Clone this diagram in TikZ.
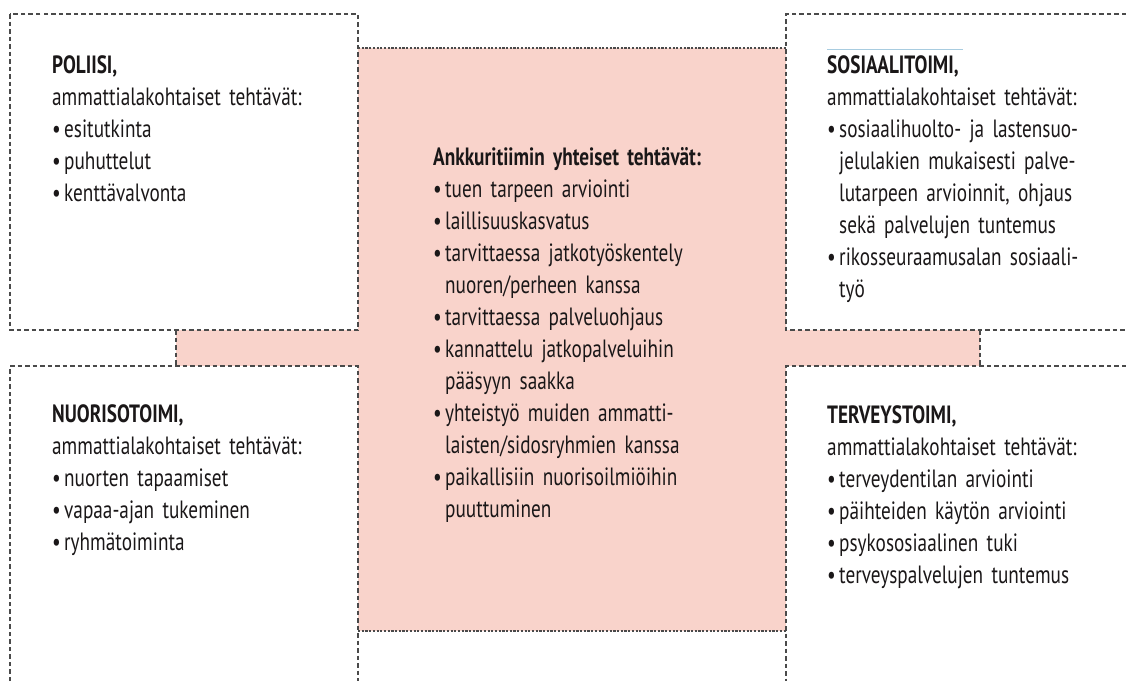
\documentclass[tikz,border=0pt]{standalone}
\usepackage{fontspec}
\setmainfont{PT Sans}[FakeStretch=0.77]
\usepackage{xcolor}

\definecolor{ankkuri}{HTML}{F9D3CB}
\definecolor{viiva}{HTML}{4A4A4A}
\definecolor{teksti}{HTML}{1A1718}
\definecolor{kursori}{HTML}{A8CCE0}
\newcommand{\pallo}{\makebox[12pt][l]{•}}
\newcommand{\sisennys}{\hspace*{12pt}}

\tikzset{
    raja/.style={draw=viiva, line width=1.2pt, dash pattern=on 4.5pt off 3pt},
    ohutraja/.style={draw=viiva, line width=1.1pt, dash pattern=on 2.2pt off 1.5pt},
    lista/.style={anchor=base west, inner sep=0pt, text width=330pt, align=left,
        text=teksti, font=\fontsize{25}{32}\selectfont},
}

\begin{document}
\begin{tikzpicture}[x=1pt,y=-1pt]
    \useasboundingbox (0,0) rectangle (1126,681);
    % pink area
    \fill[ankkuri] (358,48) rectangle (786,631);
    \fill[ankkuri] (176,330) rectangle (980,366);
    % top left box
    \draw[raja] (10,14) rectangle (358,330);
    % bottom left box (open at the bottom)
    \draw[raja] (10,681) -- (10,366) -- (358,366) -- (358,681);
    % top right box (open to the right)
    \draw[raja] (1126,14) -- (786,14) -- (786,330) -- (1126,330);
    % bottom right box
    \draw[raja] (1126,366) -- (786,366) -- (786,681);
    % band ends
    \draw[raja] (176,330) -- (176,366);
    \draw[raja] (980,330) -- (980,366);
    % pink top and bottom
    \draw[ohutraja] (358,48) -- (786,48);
    \draw[ohutraja] (358,631) -- (786,631);
    \draw[kursori, line width=0.6pt] (827,49) -- (963,49);

    % POLIISI
    \node[lista] (poliisi) at (52,73) {\textbf{POLIISI,}\\
        ammattialakohtaiset tehtävät:\\
        \pallo esitutkinta\\
        \pallo puhuttelut\\
        \pallo kenttävalvonta};
    % SOSIAALITOIMI
    \node[lista] (sosiaali) at (827,73) {\textbf{SOSIAALITOIMI,}\\
        ammattialakohtaiset tehtävät:\\
        \pallo sosiaalihuolto- ja lastensuo-\\
        \sisennys jelulakien mukaisesti palve-\\
        \sisennys lutarpeen arvioinnit, ohjaus\\
        \sisennys sekä palvelujen tuntemus\\
        \pallo rikosseuraamusalan sosiaali-\\
        \sisennys työ};
    % NUORISOTOIMI
    \node[lista] (nuoriso) at (52,422) {\textbf{NUORISOTOIMI,}\\
        ammattialakohtaiset tehtävät:\\
        \pallo nuorten tapaamiset\\
        \pallo vapaa-ajan tukeminen\\
        \pallo ryhmätoiminta};
    % TERVEYSTOIMI
    \node[lista] (terveys) at (827,423) {\textbf{TERVEYSTOIMI,}\\
        ammattialakohtaiset tehtävät:\\
        \pallo terveydentilan arviointi\\
        \pallo päihteiden käytön arviointi\\
        \pallo psykososiaalinen tuki\\
        \pallo terveyspalvelujen tuntemus};
    % Ankkuri
    \node[lista] (ankkuri) at (433,165) {\textbf{Ankkuritiimin yhteiset tehtävät:}\\
        \pallo tuen tarpeen arviointi\\
        \pallo laillisuuskasvatus\\
        \pallo tarvittaessa jatkotyöskentely\\
        \sisennys nuoren/perheen kanssa\\
        \pallo tarvittaessa palveluohjaus\\
        \pallo kannattelu jatkopalveluihin\\
        \sisennys pääsyyn saakka\\
        \pallo yhteistyö muiden ammatti-\\
        \sisennys laisten/sidosryhmien kanssa\\
        \pallo paikallisiin nuorisoilmiöihin\\
        \sisennys puuttuminen};
\end{tikzpicture}
\end{document}
